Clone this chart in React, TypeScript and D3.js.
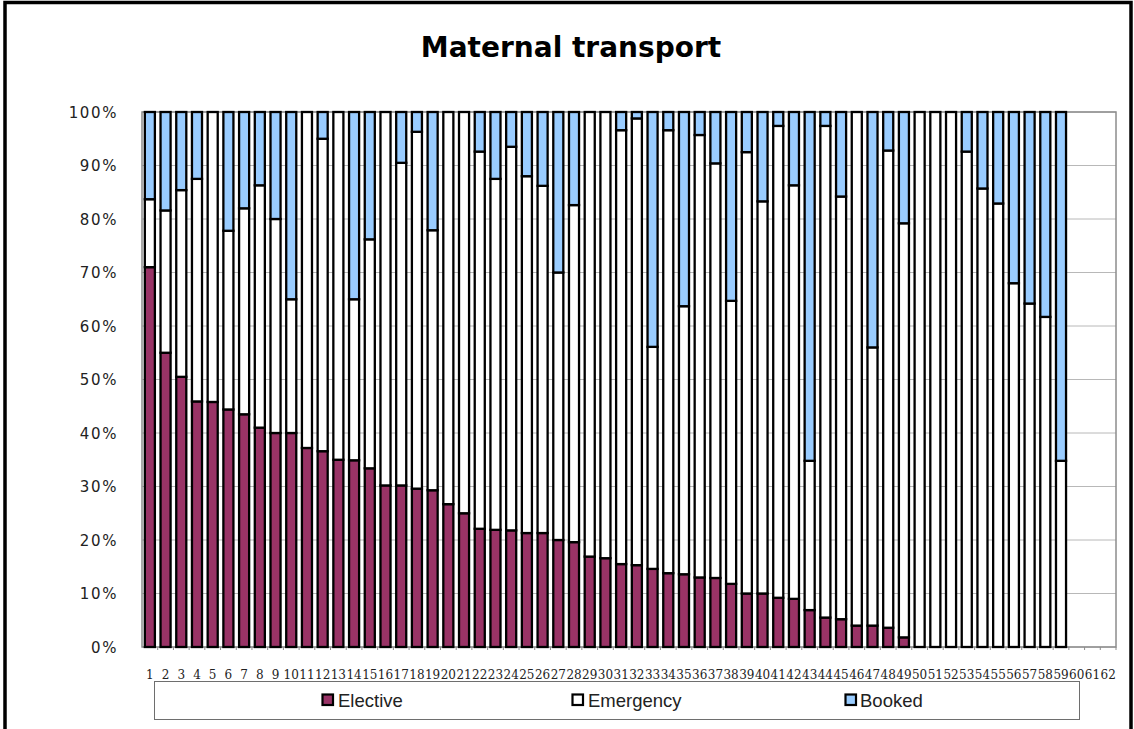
import React from "react";
import * as d3 from "d3";

const categories: string[] = Array.from({ length: 62 }, (_, i) => String(i + 1));

// Elective share (%) for categories 1..59
const elective: number[] = [
  71, 55, 50.5, 45.9, 45.8, 44.4, 43.5, 41, 40, 40,
  37.2, 36.6, 35, 34.9, 33.4, 30.2, 30.2, 29.6, 29.3, 26.7,
  25, 22.1, 21.9, 21.8, 21.3, 21.3, 20, 19.6, 16.9, 16.6,
  15.5, 15.3, 14.6, 13.8, 13.6, 13, 12.9, 11.8, 10, 10,
  9.2, 9, 6.9, 5.5, 5.2, 4, 4, 3.6, 1.8, 0,
  0, 0, 0, 0, 0, 0, 0, 0, 0,
];

// Cumulative top of Emergency (Elective + Emergency) in %
const emergencyTop: number[] = [
  83.7, 81.6, 85.4, 87.5, 100, 77.8, 82, 86.3, 80, 65,
  100, 95, 100, 65, 76.2, 100, 90.5, 96.3, 77.9, 100,
  100, 92.6, 87.5, 93.5, 88, 86.2, 70, 82.6, 100, 100,
  96.6, 98.8, 56.1, 96.6, 63.7, 95.7, 90.4, 64.7, 92.5, 83.3,
  97.4, 86.3, 34.8, 97.4, 84.2, 100, 56, 92.8, 79.2, 100,
  100, 100, 92.6, 85.7, 82.9, 68, 64.2, 61.7, 34.8,
];

const emergency: number[] = emergencyTop.map((t, i) => t - elective[i]);
const booked: number[] = emergencyTop.map((t) => 100 - t);

const seriesNames = ["Elective", "Emergency", "Booked"];
const seriesColors = ["#993366", "#ffffff", "#99ccff"];
const yTicks = [0, 10, 20, 30, 40, 50, 60, 70, 80, 90, 100];

export default function App() {
  const W = 1134, H = 729;
  const left = 142, right = 1116, top = 112, bottom = 647;

  const x = d3.scaleBand<string>().domain(categories).range([left, right]).paddingInner(0.36).paddingOuter(0.18);
  const y = d3.scaleLinear().domain([0, 100]).range([bottom, top]);

  const rows = elective.map((e, i) => ({
    cat: categories[i],
    Elective: e,
    Emergency: emergency[i],
    Booked: booked[i],
  }));
  const stack = d3.stack<any>().keys(seriesNames)(rows);

  const legendSwatchX = [322.5, 572.5, 845.5];
  const legendTextX = [338, 588, 860];
  const step = (right - left) / categories.length;

  return (
    <svg width={W} height={H} style={{ position: "absolute", left: 0, top: 0, background: "#fff" }}>
      <rect x={0} y={0} width={W} height={H} fill="#fff" />
      <rect x={5} y={2.5} width={1126} height={H + 20} fill="none" stroke="#000" strokeWidth={3.5} />
      <text x={571} y={57} textAnchor="middle" fontFamily="'DejaVu Sans', Verdana, sans-serif" fontWeight="bold" fontSize={28} fill="#000">
        Maternal transport
      </text>
      {/* gridlines */}
      {yTicks.map((t) => (
        <line key={"g" + t} x1={left} x2={right} y1={y(t)} y2={y(t)} stroke="#b8b8b8" strokeWidth={1} />
      ))}
      <rect x={left} y={top} width={right - left} height={bottom - top} fill="none" stroke="#8c8c8c" strokeWidth={1.5} />
      {/* y tick labels */}
      {yTicks.map((t) => (
        <text key={"yl" + t} x={118} y={y(t) + 5.5} textAnchor="end" fontFamily="'DejaVu Sans', sans-serif" fontSize={15} letterSpacing={1.6} fill="#222">
          {t + "%"}
        </text>
      ))}
      {/* x ticks */}
      {categories.map((c, i) => (
        <line key={"xt" + c} x1={left + (i + 1) * step} x2={left + (i + 1) * step} y1={bottom} y2={bottom + 3} stroke="#8c8c8c" strokeWidth={1} />
      ))}
      {/* bars */}
      {stack.map((s, si) => (
        <g key={s.key}>
          {s.map((d: any, i: number) => {
            const h = y(d[0]) - y(d[1]);
            if (h <= 0.01) return null;
            return (
              <rect
                key={i}
                x={x(rows[i].cat)!}
                y={y(d[1])}
                width={x.bandwidth()}
                height={h}
                fill={seriesColors[si]}
                stroke="#000"
                strokeWidth={2.3}
              />
            );
          })}
        </g>
      ))}
      {/* x labels */}
      {categories.map((c) => (
        <text key={"xl" + c} x={x(c)! + x.bandwidth() / 2} y={679} textAnchor="middle" fontFamily="'DejaVu Serif', serif" fontSize={12} fill="#222">
          {c}
        </text>
      ))}
      {/* legend */}
      <rect x={154.5} y={681.5} width={925} height={38} fill="#fff" stroke="#6e6e6e" strokeWidth={1} />
      {seriesNames.map((n, i) => (
        <g key={"lg" + n}>
          <rect x={legendSwatchX[i]} y={694.5} width={10.5} height={10.5} fill={seriesColors[i]} stroke="#000" strokeWidth={2.2} />
          <text x={legendTextX[i]} y={706.5} fontFamily="Arial, 'Liberation Sans', sans-serif" fontSize={18.5} fill="#222">
            {n}
          </text>
        </g>
      ))}
    </svg>
  );
}
